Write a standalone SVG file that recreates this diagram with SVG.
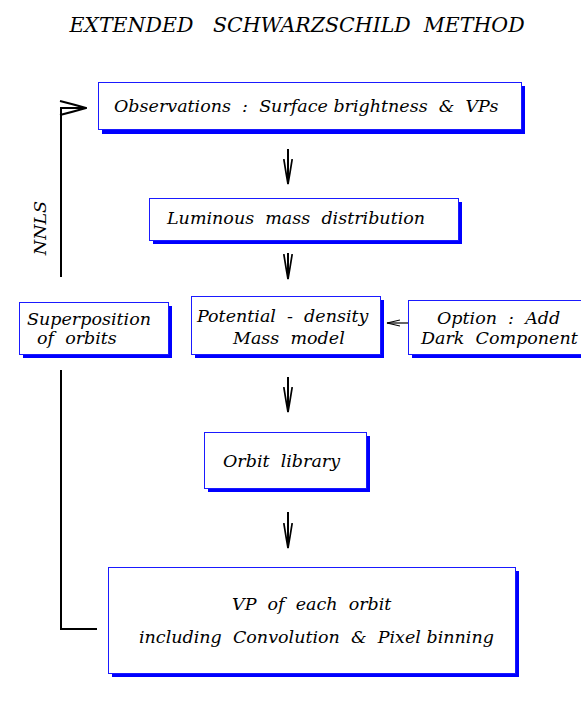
<svg xmlns="http://www.w3.org/2000/svg" width="581" height="702" viewBox="0 0 581 702">
<style>
text{font-family:"DejaVu Serif","Liberation Serif",serif;font-style:italic;font-size:17.5px;fill:#000;white-space:pre}
.box{fill:#fff;stroke:#1a1aff;stroke-width:1}
.sh{fill:#0000ff}
.ln{fill:none;stroke:#000;stroke-width:2}
</style>
<defs>
<marker id="ar" viewBox="0 0 26 10" refX="25" refY="5" markerWidth="26" markerHeight="10" markerUnits="userSpaceOnUse" orient="auto">
<path d="M0,0.8 Q14,3 25,5 Q14,7 0,9.2" fill="none" stroke="#000" stroke-width="1.7"/>
</marker>
<marker id="arL" viewBox="0 0 28 16" refX="27" refY="8" markerWidth="28" markerHeight="16" markerUnits="userSpaceOnUse" orient="auto">
<path d="M1,1 Q15,4.5 27,8 Q15,11.5 1,15" fill="none" stroke="#000" stroke-width="1.9"/>
</marker>
<marker id="arS" viewBox="0 0 14 8" refX="13" refY="4" markerWidth="14" markerHeight="8" markerUnits="userSpaceOnUse" orient="auto">
<path d="M0,1 Q7,2.6 13,4 Q7,5.4 0,7" fill="none" stroke="#000" stroke-width="1.2"/>
</marker>
</defs>
<rect width="581" height="702" fill="#fff"/>
<text x="297" y="32" text-anchor="middle" style="font-size:20.5px">EXTENDED   SCHWARZSCHILD  METHOD</text>

<g id="connectors">
<path class="ln" d="M288,149 V184" marker-end="url(#ar)"/>
<path class="ln" d="M288,253 V279" marker-end="url(#ar)"/>
<path class="ln" d="M288,377 V412" marker-end="url(#ar)"/>
<path class="ln" d="M288,512 V548" marker-end="url(#ar)"/>
<path class="ln" d="M408,323 H387" style="stroke-width:1.2" marker-end="url(#arS)"/>
<path class="ln" d="M97,629 H61 V370"/>
<path class="ln" d="M61,277 V108 H86" marker-end="url(#arL)"/>
<text transform="translate(46,228) rotate(-90)" text-anchor="middle">NNLS</text>
</g>

<g id="observations">
<rect class="sh" x="102" y="86" width="423" height="48"/>
<rect class="box" x="98.5" y="82.5" width="423" height="47"/>
<text x="114" y="112">Observations  :  Surface brightness  &amp;  VPs</text>
</g>
<g id="luminous">
<rect class="sh" x="153" y="202" width="309" height="42"/>
<rect class="box" x="149.5" y="198.5" width="309" height="42"/>
<text x="167" y="224">Luminous  mass  distribution</text>
</g>
<g id="superposition">
<rect class="sh" x="23" y="306" width="149" height="52"/>
<rect class="box" x="19.5" y="302.5" width="149" height="52"/>
<text x="27" y="325">Superposition</text>
<text x="37" y="344">of  orbits</text>
</g>
<g id="potential">
<rect class="sh" x="195" y="300" width="189" height="58"/>
<rect class="box" x="191.5" y="296.5" width="189" height="58"/>
<text x="197" y="322">Potential  -  density</text>
<text x="233" y="344">Mass  model</text>
</g>
<g id="option">
<rect class="sh" x="412" y="304" width="172" height="54"/>
<rect class="box" x="408.5" y="300.5" width="180" height="54"/>
<text x="437" y="324">Option  :  Add</text>
<text x="421" y="344">Dark  Component</text>
</g>
<g id="orbitlib">
<rect class="sh" x="208" y="436" width="162" height="56"/>
<rect class="box" x="204.5" y="432.5" width="162" height="56"/>
<text x="223" y="467">Orbit  library</text>
</g>
<g id="vp">
<rect class="sh" x="112" y="571" width="407" height="106"/>
<rect class="box" x="108.5" y="567.5" width="407" height="106"/>
<text x="232" y="610">VP  of  each  orbit</text>
<text x="139" y="643">including  Convolution  &amp;  Pixel binning</text>
</g>
</svg>
